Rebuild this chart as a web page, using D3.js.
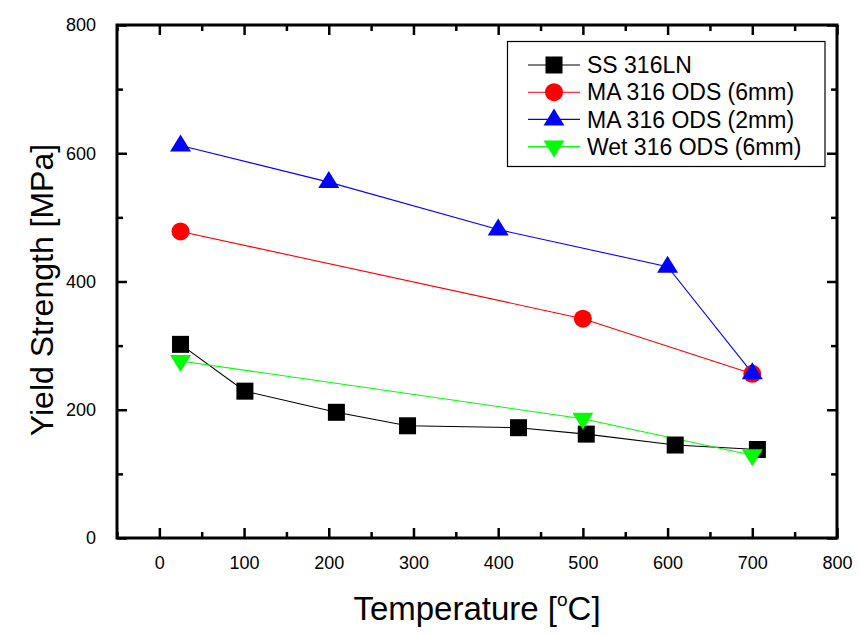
<!DOCTYPE html>
<html>
<head>
<meta charset="utf-8">
<script src="https://cdn.jsdelivr.net/npm/d3@7"></script>
<style>
  html, body { margin: 0; padding: 0; background: #fff; }
  svg { display: block; }
  text { font-family: Arial, "Liberation Sans", sans-serif; fill: #000; }
</style>
</head>
<body>
<svg id="chart" width="860" height="635"></svg>
<script>
// ---- data ----
const ssTemp = [25, 101, 209, 293, 424, 504, 609, 706];
const ssYield = [302, 229, 196, 175, 172, 162, 145, 138];

const ma6Temp = [25, 500, 700];
const ma6Yield = [478, 342, 256];

const ma2Temp = [25, 200, 400, 600, 700];
const ma2Yield = [612, 555, 481, 423, 257];

const wetTemp = [25, 500, 700];
const wetYield = [276, 186, 129];

const seriesNames = ["SS 316LN", "MA 316 ODS (6mm)", "MA 316 ODS (2mm)", "Wet 316 ODS (6mm)"];
const seriesColors = ["#000000", "#ff0000", "#0000ff", "#00ff00"];
const seriesSymbols = ["square", "circle", "triangleUp", "triangleDown"];

const xTicks = [0, 100, 200, 300, 400, 500, 600, 700, 800];
const yTicks = [0, 200, 400, 600, 800];
const xMinorTicks = [-50, 50, 150, 250, 350, 450, 550, 650, 750];
const yMinorTicks = [100, 300, 500, 700];

const xTitle = "Temperature [";
const yTitle = "Yield Strength [MPa]";

// ---- layout ----
const pLeft = 117, pRight = 837, pTop = 25, pBottom = 538;
const svg = d3.select("#chart");

const x = d3.scaleLinear().domain([-50, 800]).range([pLeft, pRight]);
const y = d3.scaleLinear().domain([0, 800]).range([pBottom, pTop]);

const series = [
  {t: ssTemp, v: ssYield},
  {t: ma6Temp, v: ma6Yield},
  {t: ma2Temp, v: ma2Yield},
  {t: wetTemp, v: wetYield}
].map((s, i) => ({
  name: seriesNames[i], color: seriesColors[i], symbol: seriesSymbols[i],
  pts: s.t.map((tt, j) => ({x: tt, y: s.v[j]}))
}));

function drawMarker(g, sym, cx, cy, color) {
  if (sym === "square") {
    g.append("rect").attr("x", cx - 8.5).attr("y", cy - 8.5).attr("width", 17).attr("height", 17).attr("fill", color);
  } else if (sym === "circle") {
    g.append("circle").attr("cx", cx).attr("cy", cy).attr("r", 9).attr("fill", color);
  } else if (sym === "triangleUp") {
    g.append("path").attr("d", `M${cx},${cy - 11} L${cx + 10.5},${cy + 6} L${cx - 10.5},${cy + 6} Z`).attr("fill", color);
  } else if (sym === "triangleDown") {
    g.append("path").attr("d", `M${cx},${cy + 11} L${cx + 10.5},${cy - 6} L${cx - 10.5},${cy - 6} Z`).attr("fill", color);
  }
}

// lines
const line = d3.line().x(d => x(d.x)).y(d => y(d.y));
const plotG = svg.append("g");
series.forEach(s => {
  plotG.append("path").datum(s.pts).attr("d", line)
    .attr("fill", "none").attr("stroke", s.color).attr("stroke-width", 1.1);
});
series.forEach(s => {
  s.pts.forEach(p => drawMarker(plotG, s.symbol, x(p.x), y(p.y), s.color));
});

// axes
const axisStyle = g => {
  g.select(".domain").remove();
  g.selectAll(".tick line").attr("stroke", "#000").attr("stroke-width", 2.5);
};
// bottom
const bx = svg.append("g").attr("transform", `translate(0,${pBottom})`)
  .call(d3.axisBottom(x).tickValues(xTicks).tickSize(-10).tickPadding(18).tickFormat(d3.format("d")));
bx.call(axisStyle);
bx.selectAll("text").attr("font-size", 18).attr("dy", "0.71em");
svg.append("g").attr("transform", `translate(0,${pBottom})`)
  .call(d3.axisBottom(x).tickValues(xMinorTicks).tickSize(-6).tickFormat(""))
  .call(axisStyle);
// top
svg.append("g").attr("transform", `translate(0,${pTop})`)
  .call(d3.axisTop(x).tickValues(xTicks).tickSize(-10).tickFormat(""))
  .call(axisStyle);
svg.append("g").attr("transform", `translate(0,${pTop})`)
  .call(d3.axisTop(x).tickValues(xMinorTicks).tickSize(-6).tickFormat(""))
  .call(axisStyle);
// left
const ly = svg.append("g").attr("transform", `translate(${pLeft},0)`)
  .call(d3.axisLeft(y).tickValues(yTicks).tickSize(-10).tickPadding(21).tickFormat(d3.format("d")));
ly.call(axisStyle);
ly.selectAll("text").attr("font-size", 18);
svg.append("g").attr("transform", `translate(${pLeft},0)`)
  .call(d3.axisLeft(y).tickValues(yMinorTicks).tickSize(-6).tickFormat(""))
  .call(axisStyle);
// right
svg.append("g").attr("transform", `translate(${pRight},0)`)
  .call(d3.axisRight(y).tickValues(yTicks).tickSize(-10).tickFormat(""))
  .call(axisStyle);
svg.append("g").attr("transform", `translate(${pRight},0)`)
  .call(d3.axisRight(y).tickValues(yMinorTicks).tickSize(-6).tickFormat(""))
  .call(axisStyle);

// frame
svg.append("rect").attr("x", pLeft).attr("y", pTop).attr("width", pRight - pLeft).attr("height", pBottom - pTop)
  .attr("fill", "none").attr("stroke", "#000").attr("stroke-width", 3);

// titles
const xt = svg.append("text").attr("x", (pLeft + pRight) / 2).attr("y", 620)
  .attr("text-anchor", "middle").attr("font-size", 33);
xt.append("tspan").text(xTitle);
xt.append("tspan").attr("font-size", 19).attr("dy", -14).text("o");
xt.append("tspan").attr("dy", 14).text("C]");

svg.append("text").attr("transform", `translate(53,290) rotate(-90)`)
  .attr("text-anchor", "middle").attr("font-size", 32).text(yTitle);

// legend
const lg = svg.append("g");
lg.append("rect").attr("x", 507.5).attr("y", 41.5).attr("width", 317.5).attr("height", 125)
  .attr("fill", "#fff").attr("stroke", "#000").attr("stroke-width", 1.2);
series.forEach((s, i) => {
  const cy = 65 + i * 27.2;
  lg.append("line").attr("x1", 528).attr("x2", 580).attr("y1", cy).attr("y2", cy)
    .attr("stroke", s.color).attr("stroke-width", 1.1);
  drawMarker(lg, s.symbol, 554, cy, s.color);
  lg.append("text").attr("x", 587).attr("y", cy).attr("dy", "0.36em")
    .attr("font-size", 23).text(s.name);
});
</script>
</body>
</html>
